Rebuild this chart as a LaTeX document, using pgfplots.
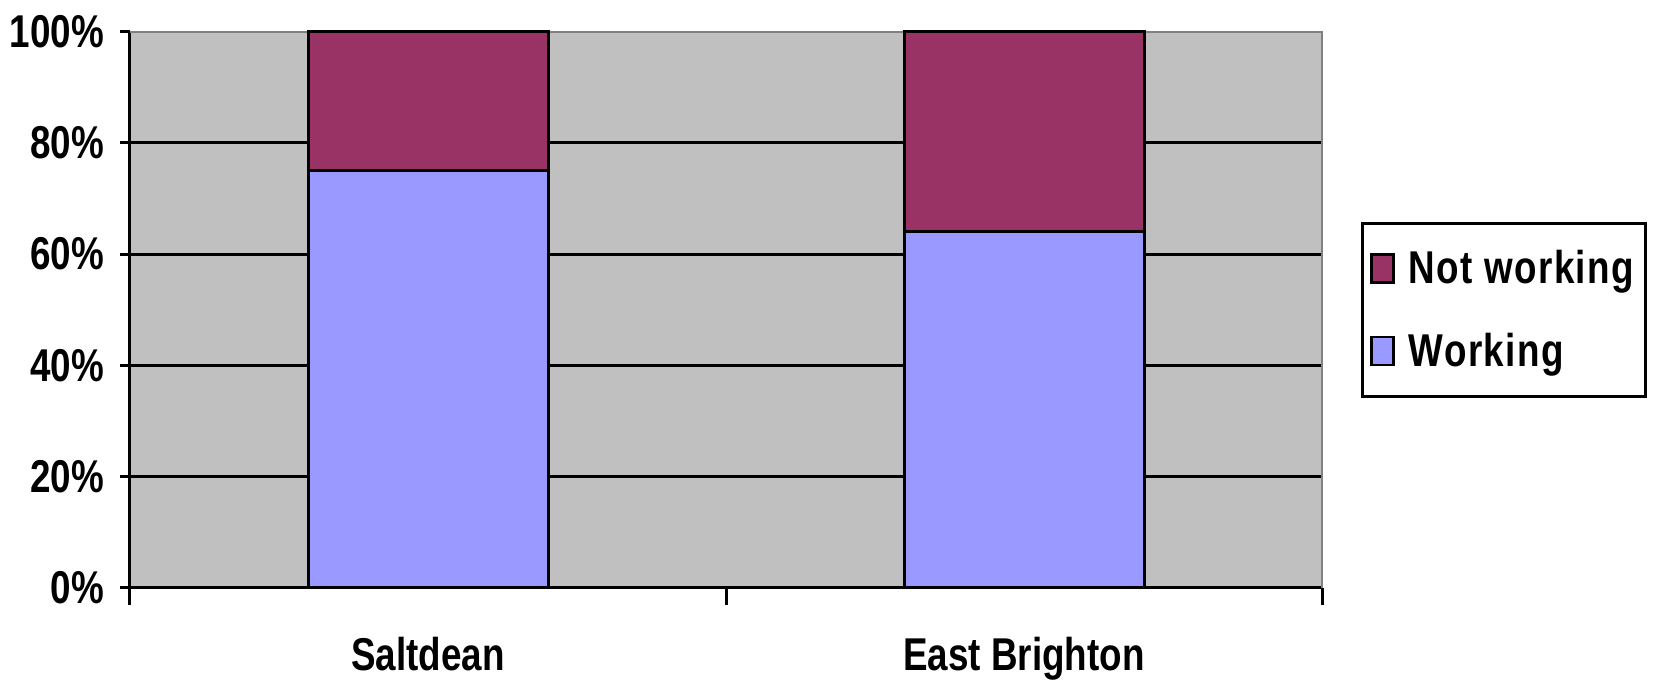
\documentclass[border=0pt]{standalone}
\usepackage{fontspec}
\setmainfont{Liberation Sans}[FakeStretch=0.8]
\newfontfamily\legfont{Liberation Sans}[FakeStretch=0.8, LetterSpace=3]
\usepackage{pgfplots}
\pgfplotsset{compat=1.18}
\definecolor{notw}{HTML}{993366}
\definecolor{work}{HTML}{9999FF}
\definecolor{bg}{HTML}{C0C0C0}
\begin{document}
\begin{tikzpicture}
\begin{axis}[
  scale only axis,
  width=596pt, height=278pt,
  ybar stacked,
  bar width=120pt,
  xmin=-0.5, xmax=1.5,
  ymin=0, ymax=100,
  xtick={0,1},
  xticklabels={Saltdean,East Brighton},
  ytick={0,20,40,60,80,100},
  yticklabels={0\%,20\%,40\%,60\%,80\%,100\%},
  ytick pos=left, xtick pos=bottom,
  /pgf/number format/assume math mode=true,
  tick label style={font=\fontsize{23}{26}\selectfont\bfseries},
  x tick label style={yshift=-16pt},
  y tick label style={xshift=-4.5pt},
  x tick style={draw=none},
  y tick style={black, line width=1.5pt},
  major tick length=5pt,
  tick align=outside,
  extra y ticks={20,40,60,80},
  extra y tick labels={},
  extra y tick style={grid=major, major tick length=0pt, major grid style={black, line width=1.5pt}},
  axis line style={draw=none},
  axis background/.style={fill=bg},
  clip=false,
  reverse legend,
  legend style={at={(1.0327,0.658)}, anchor=north west, draw=black, line width=1.5pt,
    font=\fontsize{23}{26}\selectfont\bfseries\legfont, row sep=19pt, inner xsep=4pt, inner ysep=11.5pt,
    /tikz/every even column/.append style={column sep=2pt}},
  legend cell align=left,
  legend image code/.code={\draw[#1, line width=1.2pt] (0pt,-7pt) rectangle (11pt,7pt);},
  legend style={/tikz/every odd column/.append style={column sep=5pt}},
]
\addplot[fill=work, draw=black, line width=1.5pt] coordinates {(0,75) (1,64)};
\addplot[fill=notw, draw=black, line width=1.5pt] coordinates {(0,25) (1,36)};
\legend{Working, Not working}
\draw[gray, line width=1pt] (rel axis cs:0,1) -- (rel axis cs:1,1) -- (rel axis cs:1,0);
\draw[black, line width=1.5pt] (rel axis cs:0,1) -- (rel axis cs:0,0) -- (rel axis cs:1,0);
\draw[black, line width=1.5pt] (rel axis cs:0,0) -- ([yshift=-8.5pt]rel axis cs:0,0);
\draw[black, line width=1.5pt] (rel axis cs:0.5,0) -- ([yshift=-8.5pt]rel axis cs:0.5,0);
\draw[black, line width=1.5pt] (rel axis cs:1,0) -- ([yshift=-8.5pt]rel axis cs:1,0);
\end{axis}
\pgfresetboundingbox
\path ([xshift=-65pt,yshift=-47pt]current axis.south west) rectangle ([xshift=168pt,yshift=15.85pt]current axis.north east);
\end{tikzpicture}
\end{document}
